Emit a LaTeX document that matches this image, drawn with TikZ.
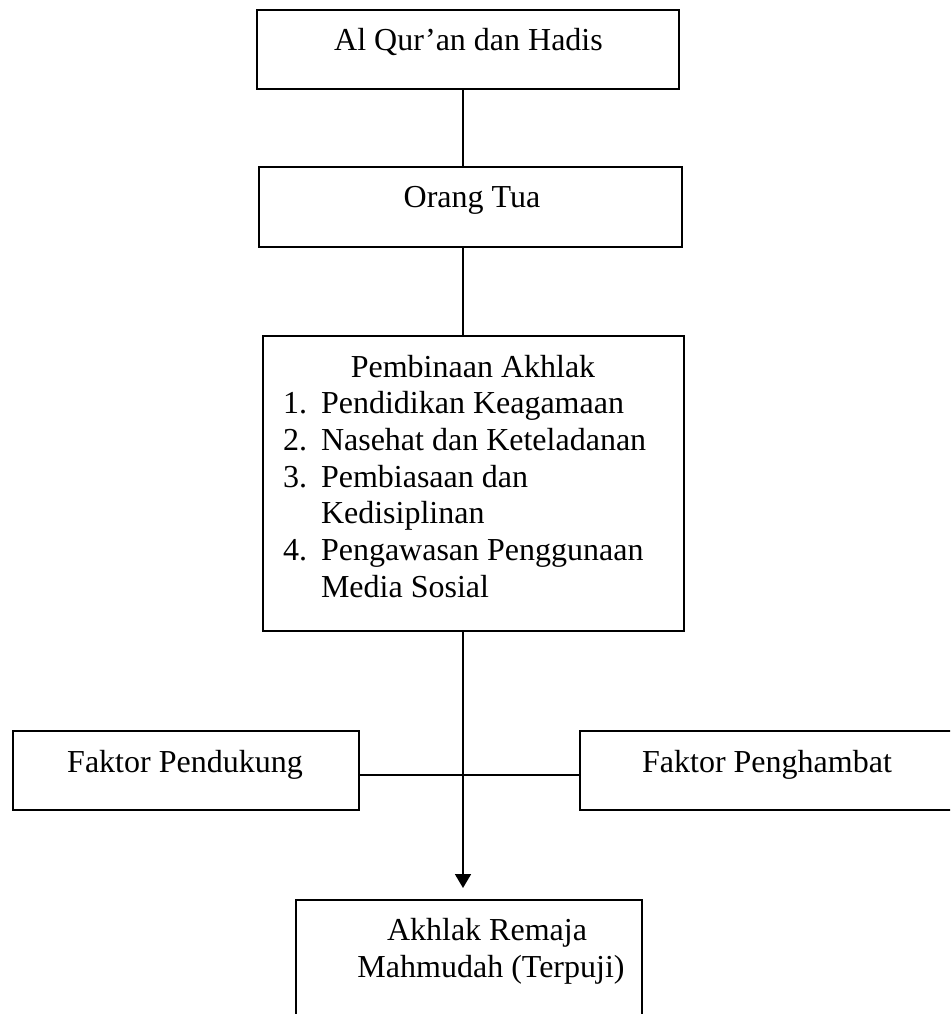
\documentclass[tikz,border=0pt]{standalone}
\usepackage{fontspec}
\setmainfont{Liberation Serif}
\usetikzlibrary{arrows.meta}
\tikzset{
  box/.style={draw=black, line width=1.6pt, rectangle, inner sep=0pt, outer sep=0pt, fill=none},
  txt/.style={inner sep=0pt, outer sep=0pt, font=\fontsize{32}{36.7}\selectfont},
  conn/.style={draw=black, line width=1.8pt},
  arr/.style={conn, -{Triangle[width=16pt,length=14pt]}}
}
\begin{document}
\begin{tikzpicture}[x=1pt,y=-1pt]
\useasboundingbox (0,0) rectangle (950,1014);
\clip (0,0) rectangle (950,1014);
\fill[white] (0,0) rectangle (950,1014);
\coordinate (spine) at (463,0);
% boxes
\node[box, minimum width=422pt, minimum height=79pt] (quran) at (468,49.5) {};
\node[box, minimum width=423pt, minimum height=80pt] (orang) at (470.5,207) {};
\node[box, minimum width=421pt, minimum height=295pt] (bina) at (473.5,483.5) {};
\node[box, minimum width=346pt, minimum height=79pt] (dukung) at (186,770.5) {};
\node[box, minimum width=374pt, minimum height=79pt] (hambat) at (767,770.5) {};
\node[box, minimum width=346pt, minimum height=140pt] (remaja) at (469,970) {};
% texts
\node[txt, anchor=base] (quranT) at (468.5,51) {Al Qur’an dan Hadis};
\node[txt, anchor=base] (orangT) at (472,207) {Orang Tua};
\node[txt, anchor=base] (binaT) at (473,377) {Pembinaan Akhlak};
\node[txt, anchor=base west] (n1) at (283,413.7) {1.};
\node[txt, anchor=base west] (i1) at (321,413.7) {Pendidikan Keagamaan};
\node[txt, anchor=base west] (n2) at (283,450.4) {2.};
\node[txt, anchor=base west] (i2) at (321,450.4) {Nasehat dan Keteladanan};
\node[txt, anchor=base west] (n3) at (283,487.1) {3.};
\node[txt, anchor=base west] (i3) at (321,487.1) {Pembiasaan dan};
\node[txt, anchor=base west] (i3b) at (321,523.8) {Kedisiplinan};
\node[txt, anchor=base west] (n4) at (283,560.5) {4.};
\node[txt, anchor=base west] (i4) at (321,560.5) {Pengawasan Penggunaan};
\node[txt, anchor=base west] (i4b) at (321,597.2) {Media Sosial};
\node[txt, anchor=base] (dukungT) at (185,772) {Faktor Pendukung};
\node[txt, anchor=base] (hambatT) at (767,772) {Faktor Penghambat};
\node[txt, anchor=base] (remajaT1) at (487,940) {Akhlak Remaja};
\node[txt, anchor=base] (remajaT2) at (491,977) {Mahmudah (Terpuji)};
% connectors
\draw[conn] (quran.south -| spine) -- (orang.north -| spine);
\draw[conn] (orang.south -| spine) -- (bina.north -| spine);
\draw[arr] (bina.south -| spine) -- ([yshift=12pt]remaja.north -| spine);
\draw[conn] (dukung.east |- 0,775) -- (hambat.west |- 0,775);
\end{tikzpicture}
\end{document}
